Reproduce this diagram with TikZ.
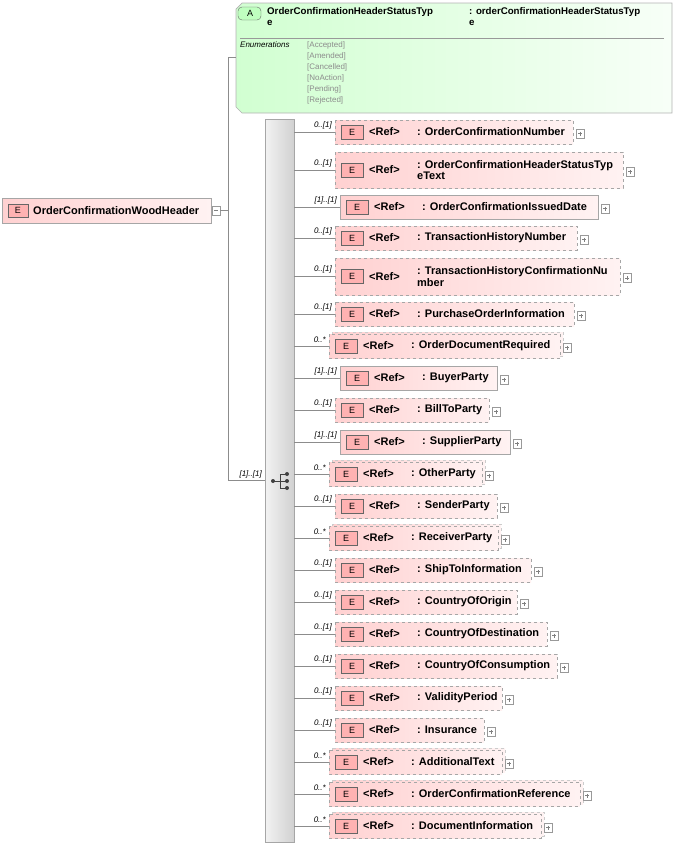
\documentclass[tikz,border=0pt]{standalone}
\usepackage{fontspec}
\setmainfont{Liberation Sans}
\begin{document}
\begin{tikzpicture}[x=1pt,y=-1pt,
  conn/.style={draw=black!45,line width=0.6pt},
  elbox/.style={left color=red!18,right color=red!5,draw=black!35,line width=0.7pt},
  eicon/.style={fill=red!30,draw=black!60,line width=0.6pt},
  plusbox/.style={draw=black!40,fill=white,line width=0.5pt},
  mult/.style={font=\itshape\fontsize{8}{9}\selectfont,anchor=south east,inner sep=0pt},
  lbl/.style={font=\bfseries\fontsize{11}{11.5}\selectfont,anchor=west,inner sep=0pt,align=left}]
\useasboundingbox (0,0) rectangle (676,847);
% root
\path[elbox] (2,198) rectangle (211,223);
\node[eicon,minimum width=20,minimum height=13,inner sep=0,font=\fontsize{9}{9}\selectfont] (rE) at (18,210.5) {E};
\node[lbl] (root) at (33,210.5) {OrderConfirmationWoodHeader};
\coordinate (rootR) at (211,210.5);
\draw[plusbox] (212,206) rectangle (220,215);
\draw[black!50] (214,210.5) -- (218,210.5);
\coordinate (j) at (228,210.5);
\draw[conn] (220,210.5) -- (j);
% attribute
\coordinate (attrL) at (236,57);
\path[left color=green!18,right color=green!3,draw=black!30,line width=0.7pt]
  (242,3) -- (672,3) -- (672,113) -- (242,113) -- (236,107) -- (236,9) -- cycle;
\draw[black!40] (240,38) -- (664,38);
\draw[fill=green!25,draw=black!60,rounded corners=4pt] (238,7) rectangle (261,20);
\node[font=\fontsize{9}{9}\selectfont] (aA) at (250,13.5) {A};
\node[lbl,anchor=north west,font=\bfseries\fontsize{9.7}{11}\selectfont] (an) at (267,7) {OrderConfirmationHeaderStatusTyp\\{}e};
\node[lbl,anchor=north west,font=\bfseries\fontsize{9.7}{11}\selectfont] (at) at (469,7) {: orderConfirmationHeaderStatusTyp\\{}e};
\node[anchor=north west,inner sep=0,font=\itshape\fontsize{8}{9}\selectfont] (en) at (240,41) {Enumerations};
\node[anchor=north west,inner sep=0,text=black!45,align=left,font=\fontsize{8}{11}\selectfont] (ev) at (307,41)
 {{[Accepted]}\\{}[Amended]\\{}[Cancelled]\\{}[NoAction]\\{}[Pending]\\{}[Rejected]};
% sequence bar
\path[left color=black!5,right color=black!18,draw=black!35] (265,119) rectangle (294,842);
\coordinate (seqL) at (265,480);
\draw[conn] (228,57) -- (attrL);
\draw[conn] (228,57) -- (228,480) -- (seqL);
\node[mult] (m0) at (262,478) {{[1]..[1]}};
% seq icon
\fill[black!75] (273,481) circle (2);
\draw[black!75,line width=1pt] (273,481) -- (280,481) (280,474) -- (280,488) (280,474)--(287,474) (280,481)--(287,481) (280,488)--(287,488);
\fill[black!75] (287,474) circle (2) (287,481) circle (2) (287,488) circle (2);
% children
\foreach \i/\yt/\yb/\xl/\xr/\nm/\mm/\st in {
 1/120/144/335/573/OrderConfirmationNumber/0..[1]/d,
 2/152/188/335/623/{OrderConfirmationHeaderStatusTyp\\{}eText}/0..[1]/d,
 3/195/219/340/598/OrderConfirmationIssuedDate/[1]..[1]/s,
 4/226/250/335/577/TransactionHistoryNumber/0..[1]/d,
 5/258/295/335/620/{TransactionHistoryConfirmationNu\\{}mber}/0..[1]/d,
 6/302/326/335/574/PurchaseOrderInformation/0..[1]/d,
 7/334/358/329/560/OrderDocumentRequired/0..*/m,
 8/366/390/340/497/BuyerParty/[1]..[1]/s,
 9/398/422/335/489/BillToParty/0..[1]/d,
 10/430/454/340/510/SupplierParty/[1]..[1]/s,
 11/462/486/329/482/OtherParty/0..*/m,
 12/494/518/335/497/SenderParty/0..[1]/d,
 13/526/550/329/498/ReceiverParty/0..*/m,
 14/558/582/335/531/ShipToInformation/0..[1]/d,
 15/590/614/335/517/CountryOfOrigin/0..[1]/d,
 16/622/646/335/547/CountryOfDestination/0..[1]/d,
 17/654/678/335/557/CountryOfConsumption/0..[1]/d,
 18/686/710/335/502/ValidityPeriod/0..[1]/d,
 19/718/742/335/484/Insurance/0..[1]/d,
 20/750/774/329/502/AdditionalText/0..*/m,
 21/782/806/329/580/OrderConfirmationReference/0..*/m,
 22/814/838/329/541/DocumentInformation/0..*/m}{
 \pgfmathsetmacro{\yc}{(\yt+\yb)/2}
 \if\st d
   \path[elbox,dashed] (\xl,\yt) rectangle (\xr,\yb);
 \fi
 \if\st s
   \path[elbox] (\xl,\yt) rectangle (\xr,\yb);
 \fi
 \if\st m
   \path[elbox,dashed,draw=black!20] (\xl+3,\yt-2) rectangle (\xr+3,\yb-2);
   \path[elbox,dashed] (\xl,\yt) rectangle (\xr,\yb);
 \fi
 \coordinate (c\i) at (\xl,\yc);
 \draw[conn] (294,\yc) -- (c\i);
 \node[mult] (m\i) at (\xl-3,\yc-3) {{\mm}};
 \node[eicon,minimum width=22,minimum height=14,inner sep=0,font=\fontsize{9}{9}\selectfont] (e\i) at ([xshift=17]c\i) {E};
 \node[lbl] (r\i) at ([xshift=34]c\i) {<Ref>};
 \node[lbl] (n\i) at (\xl+82,\yc) {: \nm};
 \draw[plusbox] (\xr+3,\yc-3) rectangle (\xr+11,\yc+6);
 \draw[black!50] (\xr+5,\yc+1.5) -- (\xr+9,\yc+1.5) (\xr+7,\yc-0.5) -- (\xr+7,\yc+3.5);
}
\end{tikzpicture}
\end{document}
